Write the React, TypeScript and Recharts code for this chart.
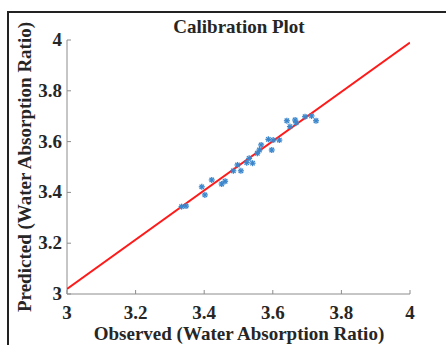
import React from 'react';
import { ScatterChart, Scatter, XAxis, YAxis } from 'recharts';

const observed = [3.334, 3.347, 3.393, 3.402, 3.422, 3.451, 3.461, 3.485, 3.497, 3.507, 3.524, 3.531, 3.541, 3.555, 3.561, 3.566, 3.587, 3.597, 3.601, 3.619, 3.641, 3.65, 3.665, 3.668, 3.694, 3.713, 3.726];
const predicted = [3.344, 3.346, 3.422, 3.39, 3.449, 3.433, 3.444, 3.485, 3.508, 3.485, 3.517, 3.534, 3.515, 3.554, 3.567, 3.587, 3.609, 3.567, 3.606, 3.606, 3.682, 3.659, 3.685, 3.674, 3.698, 3.701, 3.682];
const fitX = [3, 4];
const fitY = [3.02, 3.99];
const xTicks = [3, 3.2, 3.4, 3.6, 3.8, 4];
const yTicks = [3, 3.2, 3.4, 3.6, 3.8, 4];

const points = observed.map((x, i) => ({ x, y: predicted[i] }));
const fitLine = fitX.map((x, i) => ({ x, y: fitY[i] }));

const FONT = '"Liberation Serif", "Times New Roman", serif';
const TXT = '#262626';
const AXIS = '#8c8c8c';

const fmt = (v: number) => (Number.isInteger(v) ? String(v) : v.toFixed(1));

const XTick = (props: any) => {
  const { x, y, payload } = props;
  return (
    <g>
      <line x1={x} y1={y} x2={x} y2={y - 4} stroke={AXIS} strokeWidth={1} />
      <text x={x} y={y + 25} textAnchor="middle" fontFamily={FONT} fontWeight="bold" fontSize={19} fill={TXT}>
        {fmt(payload.value)}
      </text>
    </g>
  );
};

const YTick = (props: any) => {
  const { x, y, payload } = props;
  return (
    <g>
      <line x1={x} y1={y} x2={x + 4} y2={y} stroke={AXIS} strokeWidth={1} />
      <text x={x - 5} y={y + 6} textAnchor="end" fontFamily={FONT} fontWeight="bold" fontSize={19} fill={TXT}>
        {fmt(payload.value)}
      </text>
    </g>
  );
};

const Star = (props: any) => {
  const { cx, cy } = props;
  const r = 3;
  const d = 2.2;
  const c = '#3a86cc';
  return (
    <g stroke={c} strokeWidth={1.3}>
      <line x1={cx - r} y1={cy} x2={cx + r} y2={cy} />
      <line x1={cx} y1={cy - r} x2={cx} y2={cy + r} />
      <line x1={cx - d} y1={cy - d} x2={cx + d} y2={cy + d} />
      <line x1={cx - d} y1={cy + d} x2={cx + d} y2={cy - d} />
    </g>
  );
};

const NoDot = () => <g />;

export default function App() {
  return (
    <div style={{ position: 'absolute', left: 0, top: 0, width: 446, height: 345, overflow: 'hidden', background: '#fff' }}>
      <ScatterChart width={446} height={345} margin={{ top: 40, right: 36, bottom: 0, left: 0 }}>
        <XAxis
          type="number"
          dataKey="x"
          domain={[3, 4]}
          ticks={xTicks}
          height={51}
          tickSize={0}
          tickMargin={0}
          tick={<XTick />}
          stroke={AXIS}
          allowDataOverflow
        />
        <YAxis
          type="number"
          dataKey="y"
          domain={[3, 4]}
          ticks={yTicks}
          width={67}
          tickSize={0}
          tickMargin={0}
          tick={<YTick />}
          stroke={AXIS}
          allowDataOverflow
        />
        <Scatter data={fitLine} line={{ stroke: '#ff1a1a', strokeWidth: 2 }} shape={<NoDot />} isAnimationActive={false} />
        <Scatter data={points} shape={<Star />} isAnimationActive={false} />
        <text x={239} y={33} textAnchor="middle" fontFamily={FONT} fontWeight="bold" fontSize={19} fill={TXT}>
          Calibration Plot
        </text>
        <text x={239} y={340} textAnchor="middle" fontFamily={FONT} fontWeight="bold" fontSize={19} fill={TXT}>
          Observed (Water Absorption Ratio)
        </text>
        <text
          x={31}
          y={167}
          transform="rotate(-90 31 167)"
          textAnchor="middle"
          fontFamily={FONT}
          fontWeight="bold"
          fontSize={19}
          fill={TXT}
        >
          Predicted (Water Absorption Ratio)
        </text>
      </ScatterChart>
      <div
        style={{
          position: 'absolute',
          left: 7,
          top: 11,
          width: 480,
          height: 400,
          border: '2px solid #222',
          boxSizing: 'border-box',
          pointerEvents: 'none',
        }}
      />
    </div>
  );
}
